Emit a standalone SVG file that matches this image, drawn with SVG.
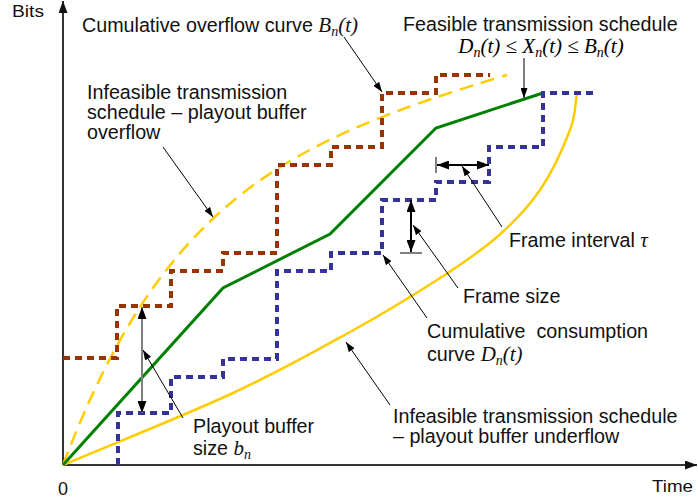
<svg xmlns="http://www.w3.org/2000/svg" width="698" height="501" viewBox="0 0 698 501">
<defs>
<style>
.t{font-family:"Liberation Sans",Arial,sans-serif;font-size:19.7px;fill:#111}
.ax{font-family:"Liberation Sans",Arial,sans-serif;font-size:17px;fill:#111}
.m{font-family:"Liberation Serif","Times New Roman",serif;font-style:italic;font-size:21px}
.s{font-size:14px}
.ptr{stroke:#000;stroke-width:1;fill:none;marker-end:url(#ah)}
.dbl{stroke-width:2;fill:none;marker-start:url(#bh);marker-end:url(#bh)}
.tick{stroke:#808080;stroke-width:2}
.axis{stroke:#333;stroke-width:2;fill:none;marker-end:url(#axh)}
</style>
<marker id="ah" viewBox="0 0 10 7" refX="10" refY="3.5" markerWidth="10" markerHeight="7" markerUnits="userSpaceOnUse" orient="auto"><path d="M0,0 L10,3.5 L0,7 z" fill="#000"/></marker>
<marker id="bh" viewBox="0 0 12 9" refX="12" refY="4.5" markerWidth="12" markerHeight="9" markerUnits="userSpaceOnUse" orient="auto-start-reverse"><path d="M0,0 L12,4.5 L0,9 z" fill="#000"/></marker>
<marker id="axh" viewBox="0 0 12 9" refX="12" refY="4.5" markerWidth="12" markerHeight="9" markerUnits="userSpaceOnUse" orient="auto"><path d="M0,0 L12,4.5 L0,9 z" fill="#111"/></marker>
</defs>
<rect width="698" height="501" fill="#fff"/>

<g id="axes">
<path class="axis" d="M63,465 V1"/>
<path class="axis" d="M63,465 H697"/>
<text class="ax" x="12" y="16.5" textLength="32" lengthAdjust="spacingAndGlyphs">Bits</text>
<text class="ax" x="652" y="491.5" textLength="41" lengthAdjust="spacingAndGlyphs">Time</text>
<text class="ax" x="63" y="495" text-anchor="middle" style="font-size:18px">0</text>
</g>

<g id="curves">
<path id="underflow-curve" d="M63,465 C120,441 185.2,415.2 233,393 C280.8,370.8 316,350.8 350,332 C384,313.2 412.5,295.8 437,280 C461.5,264.2 479.8,252 497,237 C514.2,222 527.8,207.8 540,190 C552.2,172.2 563.8,146.2 570,130 C576.2,113.8 574.7,105.3 577,93" fill="none" stroke="#FFCC00" stroke-width="2.5"/>
<path id="overflow-curve" d="M63,465 C163,200 287,141 507,75" fill="none" stroke="#FFCC00" stroke-width="2.5" stroke-dasharray="14 8"/>
<path id="feasible" d="M63,465 L223,288 L330,234 L436,128 L543,93" fill="none" stroke="#008000" stroke-width="3"/>
<path id="B-stairs" d="M63,358 H117 V306 H171 V271 H223 V253 H277 V165 H331 V147 H382 V93 H436 V75 H490" fill="none" stroke="#993300" stroke-width="4" stroke-dasharray="7 5"/>
<path id="D-stairs" d="M118,465 V413 H171 V377 H223 V359 H277 V271 H331 V253 H382 V200 H436 V182 H489 V147 H543 V93 H597" fill="none" stroke="#333399" stroke-width="4" stroke-dasharray="7 5"/>
</g>

<g id="connectors">
<line class="ptr" x1="344" y1="37" x2="382" y2="92"/>
<line class="ptr" x1="524" y1="58" x2="524" y2="98"/>
<line class="ptr" x1="163" y1="147" x2="213" y2="217"/>
<line class="ptr" x1="502" y1="227" x2="462" y2="166"/>
<line class="ptr" x1="458" y1="288" x2="413" y2="225"/>
<line class="ptr" x1="427" y1="318" x2="383" y2="255"/>
<line class="ptr" x1="390" y1="405" x2="346" y2="342"/>
<line class="ptr" x1="183" y1="418" x2="143" y2="350"/>
</g>

<g id="playout-buffer-size">
<line class="dbl" x1="142" y1="307" x2="142" y2="413" stroke="#7f7f7f"/>
<text class="t" x="193" y="433">Playout buffer</text>
<text class="t" x="193" y="455">size <tspan class="m">b</tspan><tspan class="m s" dy="4">n</tspan></text>
</g>

<g id="frame-size">
<line class="tick" x1="400" y1="253" x2="422" y2="253"/>
<line class="dbl" x1="411" y1="200" x2="411" y2="252" stroke="#000"/>
<text class="t" x="463" y="303">Frame size</text>
</g>

<g id="frame-interval">
<line class="tick" x1="436" y1="157" x2="436" y2="173"/>
<line class="dbl" x1="437" y1="165" x2="489" y2="165" stroke="#000"/>
<text class="t" x="509" y="247">Frame interval <tspan class="m">τ</tspan></text>
</g>

<g id="label-overflow-curve">
<text class="t" x="82" y="32">Cumulative overflow curve <tspan class="m">B</tspan><tspan class="m s" dy="4">n</tspan><tspan class="m" dy="-4">(t)</tspan></text>
</g>

<g id="label-feasible">
<text class="t" x="403" y="31">Feasible transmission schedule</text>
<text class="m" x="541" y="53" text-anchor="middle">D<tspan class="s" dy="4">n</tspan><tspan dy="-4">(t) ≤ X</tspan><tspan class="s" dy="4">n</tspan><tspan dy="-4">(t) ≤ B</tspan><tspan class="s" dy="4">n</tspan><tspan dy="-4">(t)</tspan></text>
</g>

<g id="label-infeasible-overflow">
<text class="t" x="87" y="99">Infeasible transmission</text>
<text class="t" x="87" y="119">schedule – playout buffer</text>
<text class="t" x="87" y="139">overflow</text>
</g>

<g id="label-consumption">
<text class="t" x="427" y="338" style="white-space:pre">Cumulative  consumption</text>
<text class="t" x="427" y="361">curve <tspan class="m">D</tspan><tspan class="m s" dy="4">n</tspan><tspan class="m" dy="-4">(t)</tspan></text>
</g>

<g id="label-infeasible-underflow">
<text class="t" x="393" y="423">Infeasible transmission schedule</text>
<text class="t" x="393" y="443">– playout buffer underflow</text>
</g>
</svg>
